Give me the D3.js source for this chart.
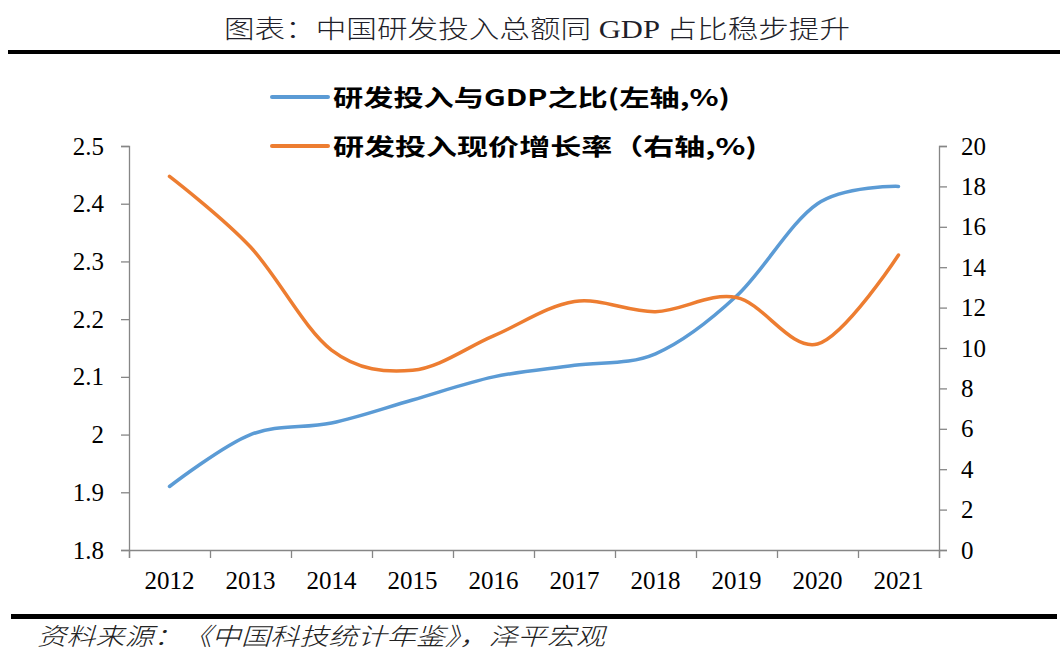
<!DOCTYPE html>
<html>
<head>
<meta charset="utf-8">
<script src="https://cdn.jsdelivr.net/npm/d3@7"></script>
<style>
  body { margin: 0; background: #fff; }
  svg text { font-family: "Liberation Serif", "DejaVu Serif", serif; }
</style>
</head>
<body>
<div id="chart"></div>
<script>

// Data.
const years = ["2012","2013","2014","2015","2016","2017","2018","2019","2020","2021"];
const gdpShare = [1.91, 2.00, 2.02, 2.06, 2.10, 2.12, 2.14, 2.24, 2.40, 2.43];   // left axis, %
const growth = [18.5, 15.0, 9.9, 8.9, 10.6, 12.3, 11.8, 12.5, 10.2, 14.6];     // right axis, %
const leftTicks = [1.8, 1.9, 2.0, 2.1, 2.2, 2.3, 2.4, 2.5];
const rightTicks = [0, 2, 4, 6, 8, 10, 12, 14, 16, 18, 20];
const seriesNames = ["研发投入与GDP之比(左轴,%)", "研发投入现价增长率（右轴,%)"];
const titleText = "图表：中国研发投入总额同 GDP 占比稳步提升";
const sourceText = "资料来源：《中国科技统计年鉴》，泽平宏观";

const W = 1060, H = 666;
const margin = { top: 146, right: 121, bottom: 116, left: 129 };
const width = W - margin.left - margin.right,
      height = H - margin.top - margin.bottom;

const axisColor = "#868686";
const colors = ["#5B9BD5", "#ED7D31"];

let svg = d3.select("#chart").append("svg")
    .attr("width", W)
    .attr("height", H);

// squeeze / stretch a text node to a given width
function fitText(sel, w) {
	sel.attr("textLength", w).attr("lengthAdjust", "spacingAndGlyphs");
}

// Title and rules
fitText(svg.append("text")
	.attr("x", 224).attr("y", 38)
	.style("font-family", "'Liberation Serif', 'Noto Sans CJK SC', serif")
	.style("font-weight", 300)
	.style("font-size", "25px")
	.attr("fill", "#1f1f2a")
	.text(titleText), 626);

svg.append("rect").attr("x", 8).attr("y", 50).attr("width", 1052).attr("height", 4).attr("fill", "#000");
svg.append("rect").attr("x", 11).attr("y", 614).attr("width", 1046).attr("height", 5).attr("fill", "#000");

fitText(svg.append("text")
	.attr("x", 37).attr("y", 645)
	.style("font-family", "'Noto Sans CJK SC', sans-serif")
	.style("font-weight", 300)
	.style("font-style", "italic")
	.style("font-size", "24px")
	.attr("fill", "#222")
	.text(sourceText), 568);


let g = svg.append("g")
	.attr("transform", "translate(" + margin.left + "," + margin.top + ")");

// Scales
let x = d3.scaleBand().domain(years).range([0, width]);
let xEdge = d3.scaleLinear().domain([0, years.length]).range([0, width]);
let yL = d3.scaleLinear().domain([1.8, 2.5]).range([height, 0]);
let yR = d3.scaleLinear().domain([0, 20]).range([height, 0]);

// Axes
let leftAxis = g.append("g")
	.call(d3.axisLeft(yL).tickValues(leftTicks).tickSize(8).tickPadding(17)
		.tickFormat(d => String(+d.toFixed(1))));
let rightAxis = g.append("g")
	.attr("transform", "translate(" + width + ",0)")
	.call(d3.axisRight(yR).tickValues(rightTicks).tickSize(8).tickPadding(14));
let edgeAxis = g.append("g")
	.attr("transform", "translate(0," + height + ")")
	.call(d3.axisBottom(xEdge).tickValues(d3.range(years.length + 1)).tickSize(8).tickFormat(""));
let labelAxis = g.append("g")
	.attr("transform", "translate(0," + height + ")")
	.call(d3.axisBottom(x).tickSize(0).tickPadding(21));
labelAxis.select(".domain").remove();

g.selectAll(".domain, .tick line").attr("stroke", axisColor).attr("stroke-width", 1.3);
g.selectAll(".tick text")
	.attr("fill", "#000")
	.style("font-family", "'Liberation Serif', serif")
	.style("font-size", "25px");


// Lines
let line = d3.line().curve(d3.curveCatmullRom.alpha(0));

g.append("path")
	.datum(gdpShare)
	.attr("fill", "none")
	.attr("stroke", colors[0])
	.attr("stroke-width", 3.5)
	.attr("stroke-linecap", "round")
	.attr("d", line.x((d, i) => x(years[i]) + x.bandwidth() / 2).y(d => yL(d)));

g.append("path")
	.datum(growth)
	.attr("fill", "none")
	.attr("stroke", colors[1])
	.attr("stroke-width", 3.5)
	.attr("stroke-linecap", "round")
	.attr("d", line.x((d, i) => x(years[i]) + x.bandwidth() / 2).y(d => yR(d)));


// Legend
const legendW = [397, 424];
let legend = svg.append("g").attr("transform", "translate(270,97)");
seriesNames.forEach((name, i) => {
	let row = legend.append("g").attr("transform", "translate(0," + (i * 49) + ")");
	row.append("line")
		.attr("x1", 2).attr("x2", 58)
		.attr("stroke", colors[i]).attr("stroke-width", 4).attr("stroke-linecap", "round");
	fitText(row.append("text")
		.attr("x", 63).attr("y", 9)
		.style("font-family", "'Noto Sans CJK SC', sans-serif")
		.style("font-weight", 700)
		.style("font-size", "23px")
		.attr("fill", "#000")
		.text(name), legendW[i]);
});

</script>
</body>
</html>
